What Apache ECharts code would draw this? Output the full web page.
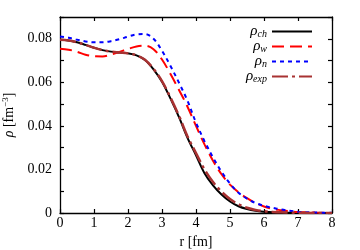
<!DOCTYPE html>
<html><head><meta charset="utf-8">
<script src="https://cdn.jsdelivr.net/npm/echarts@6/dist/echarts.min.js"></script>
<style>html,body{margin:0;padding:0;background:#fff}#c{width:360px;height:250px}</style>
</head><body><div id="c"></div>
<script>
const r = [0,0.25,0.5,0.75,1,1.25,1.5,1.75,2,2.25,2.5,2.75,3,3.25,3.5,3.75,4,4.25,4.5,4.75,5,5.25,5.5,5.75,6,6.25,6.5,6.75,7,7.5,8];
const rhoCh  = [0.0795,0.0792,0.0784,0.0772,0.0759,0.0748,0.0741,0.0737,0.0733,0.0724,0.0703,0.0660,0.0603,0.0525,0.0440,0.0345,0.0265,0.0183,0.0127,0.0085,0.0053,0.0031,0.0018,0.0010,0.0006,0.0004,0.0002,0.0001,0.0001,0.0000,0.0000];
const rhoW   = [0.0754,0.0750,0.0740,0.0727,0.0720,0.0719,0.0727,0.0740,0.0753,0.0765,0.0768,0.0752,0.0705,0.0638,0.0565,0.0488,0.0400,0.0315,0.0240,0.0178,0.0130,0.0095,0.0068,0.0046,0.0030,0.0019,0.0013,0.0008,0.0005,0.0002,0.0000];
const rhoN   = [0.0810,0.0805,0.0796,0.0788,0.0784,0.0784,0.0789,0.0798,0.0810,0.0820,0.0822,0.0800,0.0745,0.0675,0.0598,0.0515,0.0415,0.0330,0.0255,0.0190,0.0135,0.0093,0.0066,0.0046,0.0033,0.0024,0.0016,0.0010,0.0006,0.0002,0.0001];
const rhoExp = [0.0795,0.0792,0.0784,0.0772,0.0759,0.0748,0.0741,0.0737,0.0733,0.0724,0.0704,0.0662,0.0606,0.0530,0.0446,0.0352,0.0275,0.0200,0.0142,0.0098,0.0064,0.0040,0.0024,0.0014,0.0008,0.0005,0.0003,0.0002,0.0001,0.0000,0.0000];
const xTicks = [0,1,2,3,4,5,6,7,8];
const yTickLabels = ['0','0.02','0.04','0.06','0.08'];
const names = ['ch','w','n','exp'];

const F = 'Liberation Serif';
const pair = a => r.map((x,i)=>[x,a[i]]);
const chart = echarts.init(document.getElementById('c'));
const axCommon = {
  axisLine:{show:true,onZero:false,lineStyle:{color:'#000',width:1.3}},
  axisTick:{show:true,inside:true,length:4,lineStyle:{color:'#000',width:1.2}},
  splitLine:{show:false}
};
const mk = (nm, data, color, dash, width) => ({
  name: nm, type:'line', data: pair(data), showSymbol:false, symbol:'none', smooth:0.35,
  xAxisIndex:0, yAxisIndex:0,
  lineStyle:{color:color,width:width,type:dash}, itemStyle:{color:color}
});
chart.setOption({
  animation:false,
  grid:{left:60,right:28,top:17,bottom:37,containLabel:false,outerBoundsMode:'none'},
  legend:{
    data:names, orient:'vertical', right:47, top:24, align:'right', padding:0,
    itemWidth:40, itemHeight:15, itemGap:0,
    itemStyle:{opacity:0, borderWidth:0},
    formatter: n => '{r|ρ}{s|' + n + '}',
    textStyle:{fontFamily:F, color:'#000', lineHeight:15, rich:{
      r:{fontFamily:F,fontStyle:'italic',fontSize:15,color:'#000',lineHeight:15},
      s:{fontFamily:F,fontStyle:'italic',fontSize:10,color:'#000',lineHeight:10,padding:[5,0,0,0]}
    }}
  },
  xAxis:[
    Object.assign({type:'value',min:0,max:8,interval:1,position:'bottom',
      axisLabel:{fontFamily:F,fontSize:14,color:'#000',margin:3,
        formatter:v=>xTicks.includes(v)?String(v):''},
      name:'r [fm]',nameLocation:'middle',nameGap:15,
      nameTextStyle:{fontFamily:F,fontSize:14,color:'#000'}},axCommon),
    Object.assign({type:'value',min:0,max:8,interval:1,position:'top',axisLabel:{show:false}},axCommon)
  ],
  yAxis:[
    Object.assign({type:'value',min:0,max:0.09,interval:0.01,position:'left',
      axisLabel:{fontFamily:F,fontSize:14,color:'#000',margin:8,
        formatter:v=>{const k=Math.round(v*100); return k%2===0 ? (yTickLabels[k/2]||'') : '';}},
      name:'{i|ρ}{a| [fm}{b|−3}{a|]}',nameLocation:'middle',nameGap:40,
      nameTextStyle:{fontFamily:F,fontSize:14,color:'#000',rich:{
        i:{fontFamily:F,fontSize:14,fontStyle:'italic',color:'#000'},
        a:{fontFamily:F,fontSize:14,color:'#000'},
        b:{fontFamily:F,fontSize:9,color:'#000',padding:[0,0,7,0]}
      }}},axCommon),
    Object.assign({type:'value',min:0,max:0.09,interval:0.01,position:'right',axisLabel:{show:false}},axCommon)
  ],
  series:[
    mk('ch', rhoCh, '#000000', 'solid', 2),
    mk('w', rhoW, '#ff0000', [12,6], 2),
    mk('n', rhoN, '#0000ff', [4,4], 2),
    mk('exp', rhoExp, '#a83232', [16,4,3,4], 2.5)
  ]
});
</script></body></html>
